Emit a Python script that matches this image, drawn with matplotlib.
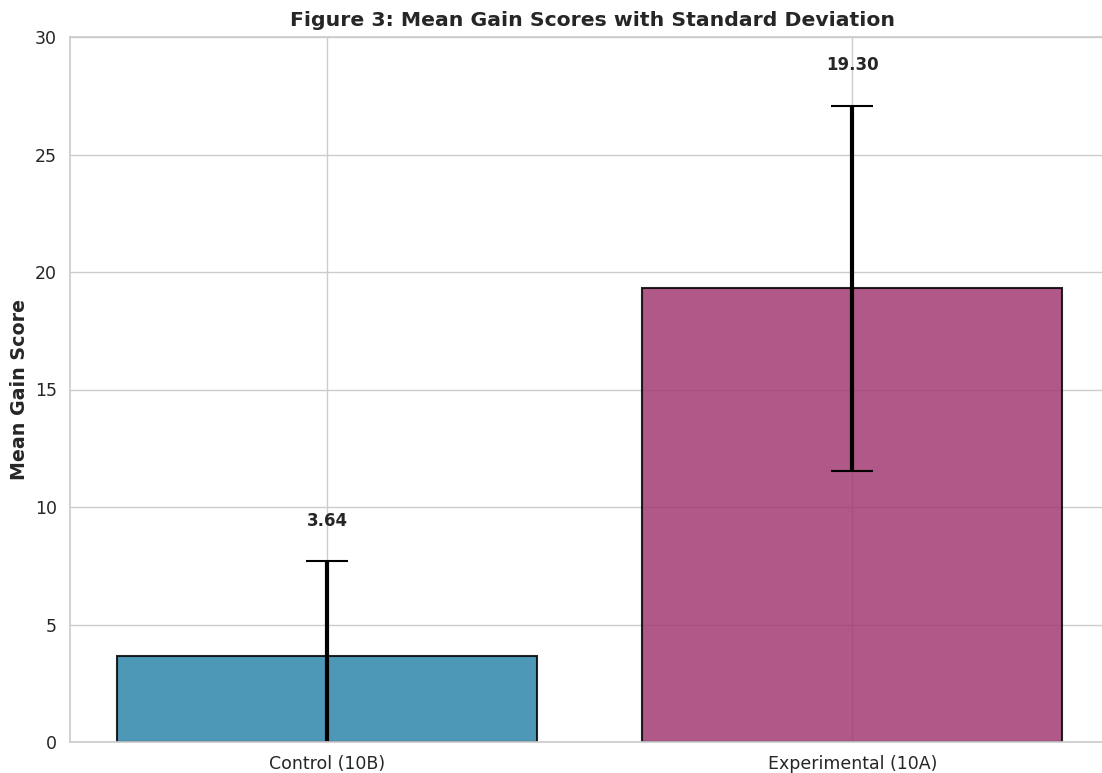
import matplotlib
matplotlib.use("Agg")
import matplotlib.pyplot as plt
import seaborn as sns

groups = ["Control (10B)", "Experimental (10A)"]
mean_gain = [3.64, 19.30]
sd_gain = [4.05, 7.77]
bar_colors = ["#2E86AB", "#A23B72"]

sns.set_theme(style="whitegrid")
plt.rcParams["font.family"] = ["DejaVu Sans"]

fig = plt.figure(figsize=(11.02, 7.73), dpi=100)
ax = fig.add_axes([70 / 1102, 31 / 773, 1045 / 1102, 705 / 773])

x = range(len(groups))
ax.bar(x, mean_gain, width=0.8, color=bar_colors, alpha=0.85,
       edgecolor="black", linewidth=1.5)
ax.errorbar(x, mean_gain, yerr=sd_gain, fmt="none", ecolor="black",
            elinewidth=3, capsize=15, capthick=1.5)

for xi, m, s in zip(x, mean_gain, sd_gain):
    ax.text(xi, m + s + 1.35, f"{m:.2f}", ha="center", va="bottom",
            fontsize=12, fontweight="bold", color=".15")

ax.set_xticks(list(x))
ax.set_xticklabels(groups, fontsize=12.5)
ax.set_xlim(-0.49, 1.5)
ax.set_ylim(0, 30)
ax.tick_params(axis="y", labelsize=12.5)
ax.spines["right"].set_visible(False)
ax.set_ylabel("Mean Gain Score", fontsize=13.7, fontweight="bold")
ax.set_title("Figure 3: Mean Gain Scores with Standard Deviation",
             fontsize=14.7, fontweight="bold", pad=8)

fig.savefig("out.png", dpi=100)
